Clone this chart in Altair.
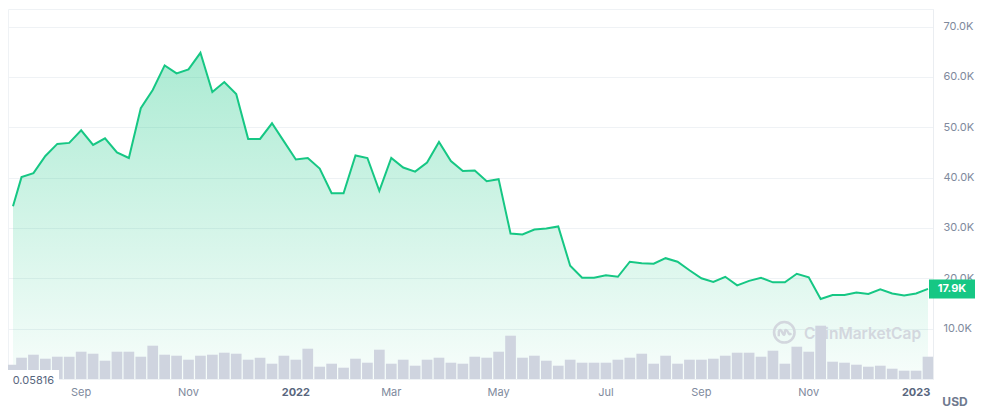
import altair as alt
import pandas as pd

# ---------------- data ----------------
first_date = "2021-07-24"
weekly_start = "2021-07-29"
n_weeks = 77
dates = [first_date] + [d.strftime("%Y-%m-%d") for d in pd.date_range(weekly_start, periods=n_weeks, freq="7D")]

prices = [
    34300,
    40100, 40900, 44300, 46700, 46900, 49400, 46500, 47800, 45000, 43900,
    53800, 57400, 62300, 60700, 61500, 64800, 57000, 59000, 56600, 47700,
    47700, 50800, 47200, 43600, 43900, 41800, 36900, 36900, 44400, 43900,
    37400, 43900, 42000, 41200, 43000, 47100, 43300, 41300, 41400, 39300,
    39700, 28900, 28700, 29700, 29900, 30300, 22500, 20100, 20100, 20600,
    20300, 23300, 23000, 22900, 24000, 23300, 21600, 20000, 19300, 20300,
    18600, 19500, 20100, 19200, 19200, 20900, 20200, 15900, 16700, 16700,
    17200, 16900, 17800, 17000, 16600, 17000, 17900,
]

volumes = [
    14.3,
    21.3, 24.3, 20.3, 22.3, 22.3, 27.3, 25.3, 18.3, 27.3, 27.3,
    22.3, 33.3, 24.3, 23.3, 19.3, 23.3, 24.3, 26.3, 25.3, 19.3,
    21.3, 15.3, 23.3, 19.3, 30.3, 12.3, 15.3, 11.3, 20.3, 16.3,
    29.3, 15.3, 19.3, 13.3, 19.3, 21.3, 16.3, 15.3, 22.3, 21.3,
    27.3, 43.3, 21.3, 23.3, 18.3, 13.3, 19.3, 16.3, 16.3, 16.3,
    19.3, 21.3, 25.3, 15.3, 23.3, 15.3, 19.3, 19.3, 20.3, 23.3,
    26.3, 26.3, 22.3, 28.3, 15.3, 32.3, 27.3, 53.3, 17.3, 16.3,
    14.3, 12.3, 13.3, 10.3, 8.3, 8.3, 22.3,
]

tick_dates = ["2021-09-02", "2021-11-04", "2022-01-06", "2022-03-03", "2022-05-05",
              "2022-07-07", "2022-09-01", "2022-11-03", "2023-01-05"]
tick_labels = ["Sep", "Nov", "2022", "Mar", "May", "Jul", "Sep", "Nov", "2023"]
tick_is_year = [False, False, True, False, False, False, False, False, True]
price_ticks = [10000, 20000, 30000, 40000, 50000, 60000, 70000]
x_domain = ["2021-07-24", "2023-01-12"]
price_max = 73500
volume_max = 370
min_label = "0.05816"
unit_label = "USD"
watermark_text = "CoinMarketCap"

df = pd.DataFrame({"date": dates, "price": prices, "volume": volumes})
last_df = df.tail(1)
ticks_df = pd.DataFrame({"date": tick_dates, "label": tick_labels, "year": tick_is_year})
month_df = ticks_df[~ticks_df["year"]]
year_df = ticks_df[ticks_df["year"]]


def ms(d):
    return int(pd.Timestamp(d, tz="UTC").timestamp() * 1000)


GREEN = "#16c784"
GRID = "#eff2f5"
LABEL = "#808a9d"
FONT = "Inter"

x_scale = alt.Scale(type="utc", domain=[ms(d) for d in x_domain], nice=False, zero=False)
y_scale = alt.Scale(domain=[0, price_max], nice=False, zero=True)
v_scale = alt.Scale(domain=[0, volume_max], nice=False, zero=True)

y_axis = alt.Axis(
    orient="right", values=price_ticks,
    labelExpr="format(datum.value / 1000, '.1f') + 'K'",
    grid=True, gridColor=GRID, gridWidth=1,
    domain=True, domainColor="#eaedf1", ticks=False,
    labelPadding=10, labelColor=LABEL, labelFont=FONT, labelFontSize=11,
    title=None,
)

x_enc = alt.X("date:T", scale=x_scale, axis=None)
y_enc = alt.Y("price:Q", scale=y_scale, axis=None)

gradient = alt.Gradient(
    gradient="linear",
    stops=[alt.GradientStop(color="rgba(22,199,132,0.36)", offset=0),
           alt.GradientStop(color="rgba(22,199,132,0.03)", offset=1)],
    x1=1, x2=1, y1=0, y2=1,
)

area = alt.Chart(df).mark_area(color=gradient).encode(
    x=x_enc,
    y=alt.Y("price:Q", scale=y_scale, axis=y_axis),
)

wm_ring = alt.Chart(df.head(1)).mark_point(
    shape="circle", filled=False, color="#d3d7de", strokeWidth=2.6, size=420, opacity=1,
).encode(x=alt.value(776.3), y=alt.value(323.3))

logo_path = ("M-0.55,0.4 L-0.55,-0.05 Q-0.5,-0.35 -0.3,-0.15 L-0.1,0.2 Q0,0.35 0.05,0.1 "
             "L0.05,-0.1 Q0.12,-0.35 0.3,-0.12 L0.45,0.12 Q0.55,0.28 0.7,0.1")
wm_logo = alt.Chart(df.head(1)).mark_point(
    shape=logo_path, filled=False, color="#d3d7de", strokeWidth=2.4, size=400, opacity=1,
).encode(x=alt.value(776.3), y=alt.value(323.3))

wm_text = alt.Chart(df.head(1)).mark_text(
    text=watermark_text, align="left", baseline="middle", font=FONT, fontSize=15.5,
    fontWeight=600, color="#d3d7de",
).encode(x=alt.value(796), y=alt.value(325))

bars = alt.Chart(df).mark_bar(color="#cfd4df", width=10.7, clip=True).encode(
    x=x_enc,
    y=alt.Y("volume:Q", scale=v_scale, axis=None),
)

line = alt.Chart(df).mark_line(color=GREEN, strokeWidth=2).encode(x=x_enc, y=y_enc)

tag_path = "M-1,-0.413 L1,-0.413 L1,0.413 L-1,0.413 Z"
tag_box = alt.Chart(last_df).mark_point(
    shape=tag_path, filled=True, color=GREEN, size=2116, opacity=1, strokeWidth=0, xOffset=24,
).encode(x=x_enc, y=y_enc)

tag_text = alt.Chart(last_df).transform_calculate(
    label="format(datum.price / 1000, '.1f') + 'K'"
).mark_text(
    color="white", font=FONT, fontSize=11, fontWeight="bold", align="center",
    baseline="middle", xOffset=24, yOffset=0.5,
).encode(x=x_enc, y=y_enc, text="label:N")

min_box = alt.Chart(df.head(1)).mark_point(
    shape="M-1,-0.392 L1,-0.392 L1,0.392 L-1,0.392 Z", filled=True, color="white",
    size=2601, opacity=1, strokeWidth=0,
).encode(x=alt.value(25.5), y=alt.value(371))

min_text = alt.Chart(df.head(1)).mark_text(
    text=min_label, align="left", baseline="middle", font=FONT, fontSize=11, color="#58667e",
).encode(x=alt.value(4.7), y=alt.value(372.3))

month_text = alt.Chart(month_df).mark_text(
    align="center", baseline="middle", font=FONT, fontSize=11, color=LABEL,
).encode(x=x_enc, y=alt.value(384), text="label:N")

year_text = alt.Chart(year_df).mark_text(
    align="center", baseline="middle", font=FONT, fontSize=11, fontWeight="bold", color="#58667e",
).encode(x=x_enc, y=alt.value(384), text="label:N")

usd = alt.Chart(df.head(1)).mark_text(
    text=unit_label, align="center", baseline="middle", font=FONT, fontSize=12,
    fontWeight="bold", color="#6f7a8f",
).encode(x=alt.value(947), y=alt.value(392.7))

chart = alt.layer(
    area, wm_ring, wm_logo, wm_text, bars, line, tag_box, tag_text,
    min_box, min_text, month_text, year_text, usd
).resolve_scale(y="independent").properties(
    width=925, height=370,
    padding={"left": 8, "top": 9, "right": 50, "bottom": 41},
    autosize=alt.AutoSizeParams(type="none"),
    background="white",
).configure_view(stroke=GRID, strokeWidth=1)

chart.save("out.html", embed_options={"renderer": "svg", "actions": False})
